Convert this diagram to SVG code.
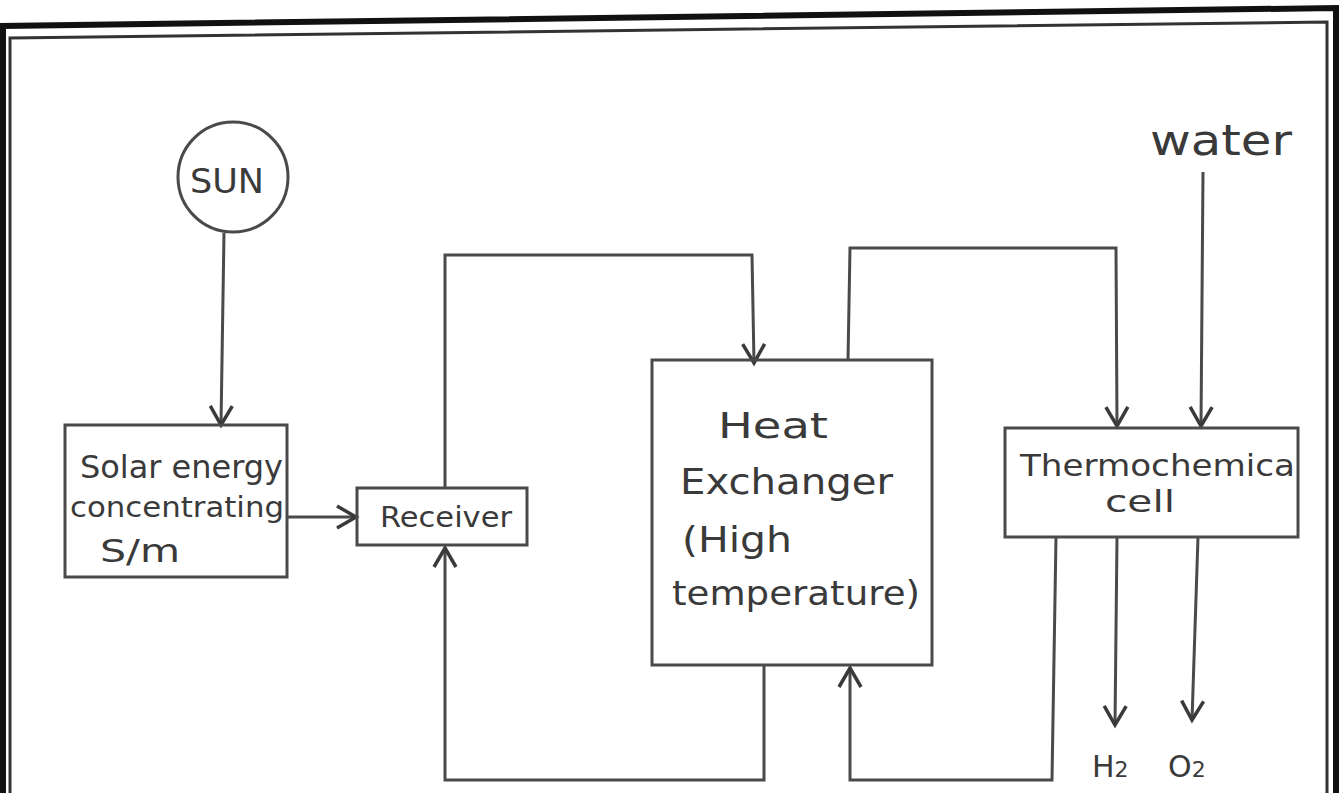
<svg xmlns="http://www.w3.org/2000/svg" width="1342" height="793" viewBox="0 0 1342 793">
<style>
.box{fill:none;stroke:#4a4a4a;stroke-width:3}
.ln{fill:none;stroke:#4a4a4a;stroke-width:3}
.t{font-family:"DejaVu Sans","Liberation Sans",sans-serif;fill:#3a3a3a}
</style>
<defs>
<marker id="ah" markerUnits="userSpaceOnUse" markerWidth="30" markerHeight="30" refX="22" refY="14" orient="auto">
<path d="M3,3 L22,14 L3,25" fill="none" stroke="#3a3a3a" stroke-width="3.5"/>
</marker>
</defs>
<rect width="1342" height="793" fill="#fff"/>
<g id="frame">
<path d="M3,793 L3,26 L1336,8 L1336,793" fill="none" stroke="#111" stroke-width="6"/>
<path d="M10,793 L10,38 L1327,22 L1327,793" fill="none" stroke="#333" stroke-width="3"/>
</g>
<g id="connectors">
<path class="ln" d="M224,233 L221,425" marker-end="url(#ah)"/>
<path class="ln" d="M287,517 L356,517" marker-end="url(#ah)"/>
<path class="ln" d="M445,488 L445,255 L752,255 L754,363" marker-end="url(#ah)"/>
<path class="ln" d="M764,665 L764,780 L445,780 L445,548" marker-end="url(#ah)"/>
<path class="ln" d="M848,360 L850,248 L1116,248 L1117,426" marker-end="url(#ah)"/>
<path class="ln" d="M1203,172 L1201,426" marker-end="url(#ah)"/>
<path class="ln" d="M1056,537 L1052,780 L850,780 L850,668" marker-end="url(#ah)"/>
<path class="ln" d="M1117,537 L1115,725" marker-end="url(#ah)"/>
<path class="ln" d="M1198,537 L1192,720" marker-end="url(#ah)"/>
</g>
<g id="sun">
<circle cx="233" cy="177" r="55" class="box"/>
<text class="t" x="190" y="193" style="font-size:34px" textLength="74" lengthAdjust="spacingAndGlyphs">SUN</text>
</g>
<g id="solar">
<rect x="65" y="425" width="222" height="152" class="box"/>
<text class="t" x="80" y="478" style="font-size:32px" textLength="203" lengthAdjust="spacingAndGlyphs">Solar energy</text>
<text class="t" x="70" y="517" style="font-size:28px" textLength="214" lengthAdjust="spacingAndGlyphs">concentrating</text>
<text class="t" x="100" y="562" style="font-size:32px" textLength="80" lengthAdjust="spacingAndGlyphs">S/m</text>
</g>
<g id="receiver">
<rect x="357" y="488" width="170" height="57" class="box"/>
<text class="t" x="380" y="527" style="font-size:28px" textLength="132" lengthAdjust="spacingAndGlyphs">Receiver</text>
</g>
<g id="hx">
<rect x="652" y="360" width="280" height="305" class="box"/>
<text class="t" x="718" y="438" style="font-size:36px" textLength="110" lengthAdjust="spacingAndGlyphs">Heat</text>
<text class="t" x="680" y="494" style="font-size:36px" textLength="213" lengthAdjust="spacingAndGlyphs">Exchanger</text>
<text class="t" x="682" y="552" style="font-size:36px" textLength="110" lengthAdjust="spacingAndGlyphs">(High</text>
<text class="t" x="672" y="605" style="font-size:34px" textLength="248" lengthAdjust="spacingAndGlyphs">temperature)</text>
</g>
<g id="water">
<text class="t" x="1150" y="155" style="font-size:42px" textLength="142" lengthAdjust="spacingAndGlyphs">water</text>
</g>
<g id="tc">
<rect x="1005" y="428" width="293" height="109" class="box"/>
<text class="t" x="1020" y="476" style="font-size:30px" textLength="275" lengthAdjust="spacingAndGlyphs">Thermochemica</text>
<text class="t" x="1105" y="512" style="font-size:30px" textLength="70" lengthAdjust="spacingAndGlyphs">cell</text>
</g>
<g id="h2"><text class="t" x="1092" y="777" style="font-size:30px">H<tspan style="font-size:22px">2</tspan></text></g>
<g id="o2"><text class="t" x="1168" y="777" style="font-size:30px">O<tspan style="font-size:22px">2</tspan></text></g>
</svg>
